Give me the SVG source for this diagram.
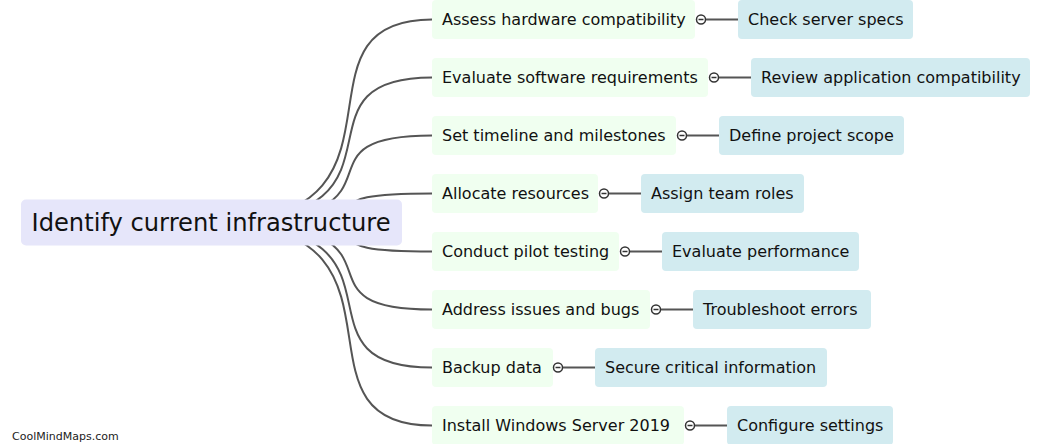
<svg xmlns="http://www.w3.org/2000/svg" width="1062" height="444" viewBox="0 0 1062 444">
<style>
text{font-family:"DejaVu Sans",Verdana,sans-serif;fill:#111}
.root rect{fill:#e6e6fa}
.root text{font-size:24.2px}
.child rect{fill:#f0fff0}
.gc rect{fill:#d2ebf0}
.child text,.gc text{font-size:16px}
.conn path,.conn line{fill:none;stroke:#555;stroke-width:2}
.tog{fill:#fff;stroke:#333;stroke-width:1.5}
.tog-m{stroke:#333;stroke-width:1.5}
.footer{font-size:11px;fill:#222}
</style>
<g id="connectors" class="conn">
<path d="M211.5 222.5 C432 222.5 279 19.5 432 19.5"/>
<path d="M211.5 222.5 C432 222.5 279 77.5 432 77.5"/>
<path d="M211.5 222.5 C432 222.5 279 135.5 432 135.5"/>
<path d="M211.5 222.5 C432 222.5 279 193.5 432 193.5"/>
<path d="M211.5 222.5 C432 222.5 279 251.5 432 251.5"/>
<path d="M211.5 222.5 C432 222.5 279 309.5 432 309.5"/>
<path d="M211.5 222.5 C432 222.5 279 367.5 432 367.5"/>
<path d="M211.5 222.5 C432 222.5 279 425.5 432 425.5"/>
<line x1="705" y1="19.5" x2="738" y2="19.5"/>
<line x1="718" y1="77.5" x2="751" y2="77.5"/>
<line x1="686" y1="135.5" x2="719" y2="135.5"/>
<line x1="608" y1="193.5" x2="641" y2="193.5"/>
<line x1="629" y1="251.5" x2="662" y2="251.5"/>
<line x1="660" y1="309.5" x2="693" y2="309.5"/>
<line x1="562" y1="367.5" x2="595" y2="367.5"/>
<line x1="694" y1="425.5" x2="727" y2="425.5"/>
</g>
<g id="root" class="root">
<rect x="21" y="199.5" width="381" height="46" rx="5"/>
<text x="31.5" y="231.3">Identify current infrastructure</text>
</g>
<g id="c1" class="child"><rect x="432" y="0" width="263" height="39" rx="4"/><text x="442" y="25.3">Assess hardware compatibility</text></g>
<g id="c2" class="child"><rect x="432" y="58" width="276" height="39" rx="4"/><text x="442" y="83.3">Evaluate software requirements</text></g>
<g id="c3" class="child"><rect x="432" y="116" width="244" height="39" rx="4"/><text x="442" y="141.3">Set timeline and milestones</text></g>
<g id="c4" class="child"><rect x="432" y="174" width="166" height="39" rx="4"/><text x="442" y="199.3">Allocate resources</text></g>
<g id="c5" class="child"><rect x="432" y="232" width="187" height="39" rx="4"/><text x="442" y="257.3">Conduct pilot testing</text></g>
<g id="c6" class="child"><rect x="432" y="290" width="218" height="39" rx="4"/><text x="442" y="315.3">Address issues and bugs</text></g>
<g id="c7" class="child"><rect x="432" y="348" width="121" height="39" rx="4"/><text x="442" y="373.3">Backup data</text></g>
<g id="c8" class="child"><rect x="432" y="406" width="252" height="39" rx="4"/><text x="442" y="431.3">Install Windows Server 2019</text></g>
<g id="toggles">
<circle class="tog" cx="701" cy="19.5" r="4.5"/><line class="tog-m" x1="698.5" y1="19.5" x2="703.5" y2="19.5"/>
<circle class="tog" cx="714" cy="77.5" r="4.5"/><line class="tog-m" x1="711.5" y1="77.5" x2="716.5" y2="77.5"/>
<circle class="tog" cx="682" cy="135.5" r="4.5"/><line class="tog-m" x1="679.5" y1="135.5" x2="684.5" y2="135.5"/>
<circle class="tog" cx="604" cy="193.5" r="4.5"/><line class="tog-m" x1="601.5" y1="193.5" x2="606.5" y2="193.5"/>
<circle class="tog" cx="625" cy="251.5" r="4.5"/><line class="tog-m" x1="622.5" y1="251.5" x2="627.5" y2="251.5"/>
<circle class="tog" cx="656" cy="309.5" r="4.5"/><line class="tog-m" x1="653.5" y1="309.5" x2="658.5" y2="309.5"/>
<circle class="tog" cx="558" cy="367.5" r="4.5"/><line class="tog-m" x1="555.5" y1="367.5" x2="560.5" y2="367.5"/>
<circle class="tog" cx="690" cy="425.5" r="4.5"/><line class="tog-m" x1="687.5" y1="425.5" x2="692.5" y2="425.5"/>
</g>
<g id="g1" class="gc"><rect x="738" y="0" width="175" height="39" rx="4"/><text x="748" y="25.3">Check server specs</text></g>
<g id="g2" class="gc"><rect x="751" y="58" width="279" height="39" rx="4"/><text x="761" y="83.3">Review application compatibility</text></g>
<g id="g3" class="gc"><rect x="719" y="116" width="185" height="39" rx="4"/><text x="729" y="141.3">Define project scope</text></g>
<g id="g4" class="gc"><rect x="641" y="174" width="163" height="39" rx="4"/><text x="651" y="199.3">Assign team roles</text></g>
<g id="g5" class="gc"><rect x="662" y="232" width="197" height="39" rx="4"/><text x="672" y="257.3">Evaluate performance</text></g>
<g id="g6" class="gc"><rect x="693" y="290" width="178" height="39" rx="4"/><text x="703" y="315.3">Troubleshoot errors</text></g>
<g id="g7" class="gc"><rect x="595" y="348" width="232" height="39" rx="4"/><text x="605" y="373.3">Secure critical information</text></g>
<g id="g8" class="gc"><rect x="727" y="406" width="166" height="39" rx="4"/><text x="737" y="431.3">Configure settings</text></g>
<text class="footer" x="12" y="439.5">CoolMindMaps.com</text>
</svg>
